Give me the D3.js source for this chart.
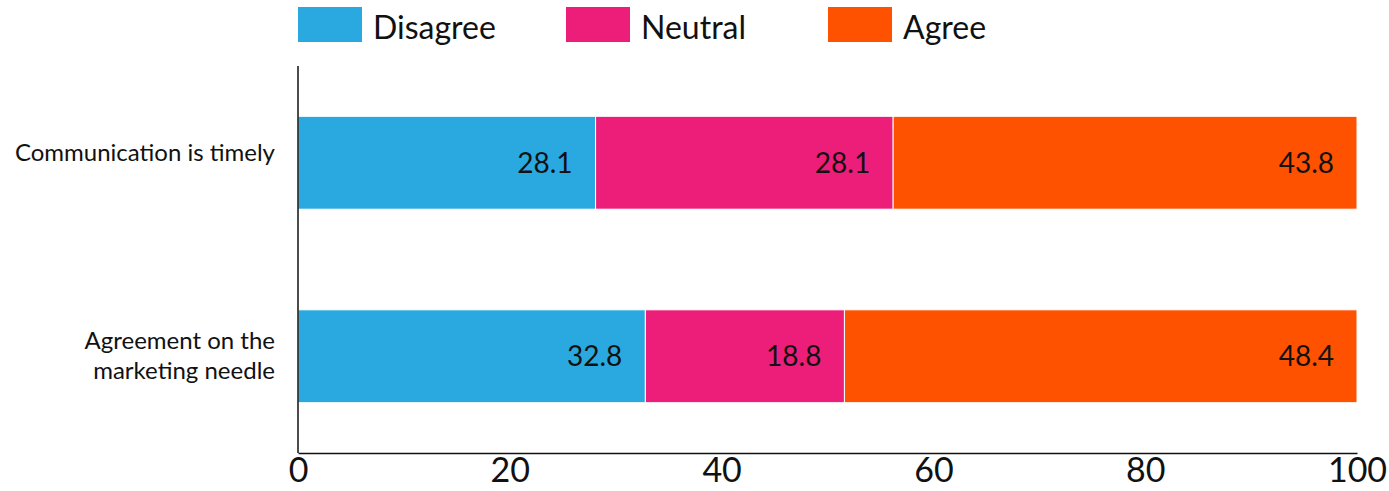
<!DOCTYPE html>
<html><head><meta charset="utf-8">
<script src="https://cdn.jsdelivr.net/npm/d3@7"></script>
<style>body{margin:0;background:#fff;} svg{display:block;font-family:Lato, "Open Sans", sans-serif;}</style>
</head><body>
<svg id="chart" width="1389" height="491"></svg>
<script>
const categories = [["Communication is timely"], ["Agreement on the", "marketing needle"]];
const seriesNames = ["Disagree", "Neutral", "Agree"];
const disagree = [28.1, 32.8];
const neutral = [28.1, 18.8];
const agree = [43.8, 48.4];
const tickValues = [0, 20, 40, 60, 80, 100];
const colors = ["#29A9E0", "#EC1E79", "#FF5200"];

const svg = d3.select("#chart");
const x = d3.scaleLinear().domain([0, 100]).range([298, 1357]);
const y = d3.scaleBand().domain(d3.range(categories.length)).range([66, 453]).paddingInner(0.52).paddingOuter(0.26);
const seriesVals = [disagree, neutral, agree];
const color = d3.scaleOrdinal().domain(seriesNames).range(colors);

const rows = categories.map((c, i) => { const o = {i}; seriesNames.forEach((s, k) => o[s] = seriesVals[k][i]); return o; });
const stack = d3.stack().keys(seriesNames)(rows);

const g = svg.append("g");
stack.forEach(layer => {
  const key = layer.key;
  g.selectAll(null).data(layer).join("rect")
    .attr("x", d => x(d[0])).attr("y", d => y(d.data.i))
    .attr("width", d => x(d[1]) - x(d[0])).attr("height", y.bandwidth())
    .attr("fill", color(key)).attr("stroke", "#fff").attr("stroke-width", 1);
  g.selectAll(null).data(layer).join("text")
    .attr("x", d => x(d[1]) - 23).attr("y", d => y(d.data.i) + y.bandwidth() / 2)
    .attr("dy", "0.36em").attr("text-anchor", "end")
    .attr("font-size", 28).attr("fill", "#111")
    .text(d => (d[1] - d[0]).toFixed(1));
});

// y axis line
svg.append("line").attr("x1", 298).attr("x2", 298).attr("y1", 66).attr("y2", 453).attr("stroke", "#111").attr("stroke-width", 1.5);

// x axis
const xAxis = svg.append("g").attr("transform", "translate(0,453)")
  .call(d3.axisBottom(x).tickValues(tickValues).tickSize(0).tickPadding(5).tickFormat(d3.format("d")));
xAxis.select(".domain").attr("stroke", "#111").attr("stroke-width", 1.5);
xAxis.selectAll("text").attr("font-size", 34).attr("font-family", "Lato, sans-serif").attr("fill", "#111");

// category labels
categories.forEach((lines, i) => {
  const cy = y(i) + y.bandwidth() / 2;
  const lh = 30;
  const top = cy - 10 - (lines.length - 1) * 6;
  const t = svg.append("text").attr("text-anchor", "end").attr("font-size", 24).attr("fill", "#111");
  lines.forEach((ln, j) => {
    t.append("tspan").attr("x", 275)
      .attr("y", top + j * lh)
      .attr("dy", "0.36em").text(ln);
  });
});

// legend
const legendX = [298, 566, 828];
seriesNames.forEach((s, k) => {
  svg.append("rect").attr("x", legendX[k]).attr("y", 7).attr("width", 64).attr("height", 35).attr("fill", color(s));
  svg.append("text").attr("x", legendX[k] + 75).attr("y", 39).attr("font-size", 32).attr("fill", "#111").text(s);
});
</script>
</body></html>
